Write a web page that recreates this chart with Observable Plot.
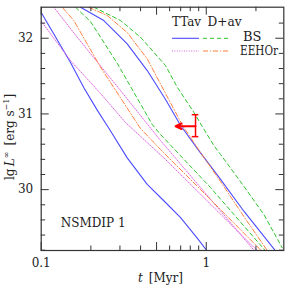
<!DOCTYPE html>
<html><head><meta charset="utf-8">
<script src="https://cdn.jsdelivr.net/npm/d3@7"></script>
<script src="https://cdn.jsdelivr.net/npm/@observablehq/plot@0.6"></script>
<style>html,body{margin:0;padding:0;background:#fff;}</style>
</head><body><div id="chart"></div>
<script>
// ---- data (t in Myr, lg L in erg/s) ----
// BS, TTav (solid blue)
const tBsTTavA = [0.1, 0.119, 0.1505, 0.181, 0.2185, 0.257, 0.332, 0.439, 0.567, 0.699, 0.882, 1.02];
const lgBsTTavA = [32.34, 32.06, 31.68, 31.35, 31.05, 30.81, 30.42, 30.07, 29.83, 29.63, 29.36, 29.18];
const tBsTTavB = [0.173, 0.2395, 0.332, 0.439, 0.567, 0.699, 0.902, 1.221, 1.69, 2.63];
const lgBsTTavB = [32.41, 32.234, 31.926, 31.573, 31.19, 30.847, 30.516, 30.136, 29.715, 29.19];
// BS, D+av (dashed green)
const tBsDavA = [0.1614, 0.199, 0.2888, 0.4708, 0.5284, 1.061, 2.288];
const lgBsDavA = [32.41, 32.22, 31.67, 30.86, 30.728, 30.028, 29.19];
const tBsDavB = [0.2084, 0.3024, 0.3998, 0.5667, 0.6674, 0.841, 0.9458, 1.112, 1.221, 1.69, 2.234, 2.888];
const lgBsDavB = [32.41, 32.234, 32.013, 31.639, 31.353, 31.022, 30.834, 30.583, 30.464, 30.045, 29.671, 29.231];
// EEHOr, TTav (dotted violet)
const tEeTTavA = [0.1, 0.1505, 0.2288, 0.3243, 0.5667, 2.046];
const lgEeTTavA = [32.225, 31.705, 31.27, 30.886, 30.398, 29.19];
const tEeTTavB = [0.1192, 0.1653, 0.3024, 0.5284, 1.962];
const lgEeTTavB = [32.41, 32.013, 31.309, 30.649, 29.19];
// EEHOr, D+av (dash-dot orange)
const tEeDavA = [0.134, 0.1576, 0.2288, 0.3998, 0.5284, 1.061, 2.164];
const lgEeDavA = [32.41, 32.234, 31.617, 30.807, 30.53, 29.869, 29.19];
const tEeDavB = [0.1935, 0.2512, 0.332, 0.4389, 0.5667, 0.7185, 0.9236, 1.221, 1.69, 2.352];
const lgEeDavB = [32.41, 32.30, 32.075, 31.728, 31.27, 30.847, 30.49, 30.107, 29.645, 29.19];
// observation
const obsT = [0.861];
const obsLg = [30.837];
const obsLgLo = [30.70];
const obsLgHi = [30.99];
const obsTLimit = [0.652];
// ticks
const xMajor = [0.1, 0.5, 1];
const xMinor = [0.2, 0.3, 0.4, 0.6, 0.7, 0.8, 0.9, 2];
const xLabels = [0.1, 0.5, 1];
const yMajor = [30, 31, 32];
const yMinor = [29.2, 29.4, 29.6, 29.8, 30.2, 30.4, 30.6, 30.8, 31.2, 31.4, 31.6, 31.8, 32.2];
const yLabels = [30, 31, 32];

// ---- build ----
const styles = {
  bsTTav: {stroke: "#4b4bff", dash: null, w: 1.1},
  bsDav: {stroke: "#2ec42e", dash: "4,3", w: 1},
  eeTTav: {stroke: "#dd66dd", dash: "1,1.4", w: 1},
  eeDav: {stroke: "#ff8040", dash: "5,2,1,2", w: 1}
};
const series = [
  ["bsTTav", tBsTTavA, lgBsTTavA], ["bsTTav", tBsTTavB, lgBsTTavB],
  ["bsDav", tBsDavA, lgBsDavA], ["bsDav", tBsDavB, lgBsDavB],
  ["eeTTav", tEeTTavA, lgEeTTavA], ["eeTTav", tEeTTavB, lgEeTTavB],
  ["eeDav", tEeDavA, lgEeDavA], ["eeDav", tEeDavB, lgEeDavB]
];
const obs = obsT.map((t, i) => ({t, lg: obsLg[i], lo: obsLgLo[i], hi: obsLgHi[i], tl: obsTLimit[i]}));

const W = 290, H = 290, mL = 40.7, mR = 6.7, mT = 6.7, mB = 40;
const pW = W - mL - mR, pH = H - mT - mB;
const ax = "#333";
const FONT = "'DejaVu Serif', 'Liberation Serif', serif";
const fmt = d => d === 1 ? "1" : String(d);

const lineMarks = series.map(([k, ts, ls]) => {
  const s = styles[k];
  return Plot.line(ts.map((t, i) => ({t, lg: ls[i]})), {
    x: "t", y: "lg", stroke: s.stroke, strokeWidth: s.w, strokeDasharray: s.dash, clip: true
  });
});

const chart = Plot.plot({
  width: W, height: H, marginLeft: mL, marginRight: mR, marginTop: mT, marginBottom: mB,
  style: {fontFamily: FONT, fontSize: "12px", background: "#fff", color: "#222"},
  x: {type: "log", domain: [0.1, 2.95]},
  y: {domain: [29.196, 32.41]},
  marks: [
    ...lineMarks,
    // error bar & upper age limit arrow
    Plot.ruleX(obs, {x: "t", y1: "lo", y2: "hi", stroke: "#f00", strokeWidth: 1.5}),
    Plot.ruleY(obs, {y: "lo", x1: d => d.t * 0.955, x2: d => d.t * 1.047, stroke: "#f00", strokeWidth: 1.5}),
    Plot.ruleY(obs, {y: "hi", x1: d => d.t * 0.955, x2: d => d.t * 1.047, stroke: "#f00", strokeWidth: 1.5}),
    Plot.arrow(obs, {x1: "t", y1: "lg", x2: "tl", y2: "lg", stroke: "#f00", strokeWidth: 2, headLength: 6, headAngle: 50, bend: 0}),
    // inward ticks, all four sides
    Plot.ruleX(xMajor, {insetTop: pH - 8, stroke: ax}),
    Plot.ruleX(xMajor, {insetBottom: pH - 8, stroke: ax}),
    Plot.ruleX(xMinor, {insetTop: pH - 4.5, stroke: ax}),
    Plot.ruleX(xMinor, {insetBottom: pH - 4.5, stroke: ax}),
    Plot.ruleY(yMajor, {insetRight: pW - 8, stroke: ax}),
    Plot.ruleY(yMajor, {insetLeft: pW - 8, stroke: ax}),
    Plot.ruleY(yMinor, {insetRight: pW - 4.5, stroke: ax}),
    Plot.ruleY(yMinor, {insetLeft: pW - 4.5, stroke: ax}),
    Plot.frame({stroke: ax, strokeWidth: 1.2}),
    Plot.axisX(xLabels, {anchor: "bottom", tickSize: 0, tickPadding: 8, tickFormat: fmt, label: null, fill: "#222"}),
    Plot.axisY(yLabels, {anchor: "left", tickSize: 0, tickPadding: 8, tickFormat: fmt, label: null, fill: "#222"}),
    Plot.text(["NSMDIP 1"], {frameAnchor: "bottom-left", dx: 19.5, dy: -23.5, textAnchor: "start", fill: "#222"})
  ]
});
document.getElementById("chart").appendChild(chart);

// ---- labels & legend (text / swatches) ----
const svg = d3.select(chart);
const g = svg.append("g").attr("font-family", FONT).attr("font-size", 12).attr("fill", "#222").attr("text-anchor", "start");
// x label
const xl = g.append("text").attr("x", 160.5).attr("y", 281.5).attr("text-anchor", "middle");
xl.append("tspan").attr("font-style", "italic").text("t");
xl.append("tspan").text("\u2002[Myr]");
// y label
const yl = g.append("text").attr("transform", "translate(13.5,137) rotate(-90)").attr("text-anchor", "middle");
yl.append("tspan").text("lg\u2009");
yl.append("tspan").attr("font-style", "italic").text("L");
yl.append("tspan").attr("font-size", 8).attr("dy", -5).text("\u221e");
yl.append("tspan").attr("dy", 5).text("\u2002[erg s");
yl.append("tspan").attr("font-size", 8).attr("dy", -5).text("\u22121");
yl.append("tspan").attr("dy", 5).text("]");
// legend
g.append("text").attr("x", 172).attr("y", 26).attr("textLength", 29).attr("lengthAdjust", "spacingAndGlyphs").text("TTav");
g.append("text").attr("x", 207.5).attr("y", 26).attr("textLength", 34).attr("lengthAdjust", "spacingAndGlyphs").text("D+av");
g.append("text").attr("x", 243).attr("y", 40.5).attr("textLength", 18.5).attr("lengthAdjust", "spacingAndGlyphs").text("BS");
g.append("text").attr("x", 240).attr("y", 54.5).attr("textLength", 38).attr("lengthAdjust", "spacingAndGlyphs").text("EEHOr");
const sw = [["bsTTav", 172, 38.3], ["bsDav", 203, 38.3], ["eeTTav", 172, 51], ["eeDav", 203, 51]];
sw.forEach(([k, x, y]) => {
  const s = styles[k];
  g.append("line").attr("x1", x).attr("x2", x + 27).attr("y1", y).attr("y2", y)
    .attr("stroke", s.stroke).attr("stroke-width", s.w).attr("stroke-dasharray", s.dash);
});
</script>
</body></html>
